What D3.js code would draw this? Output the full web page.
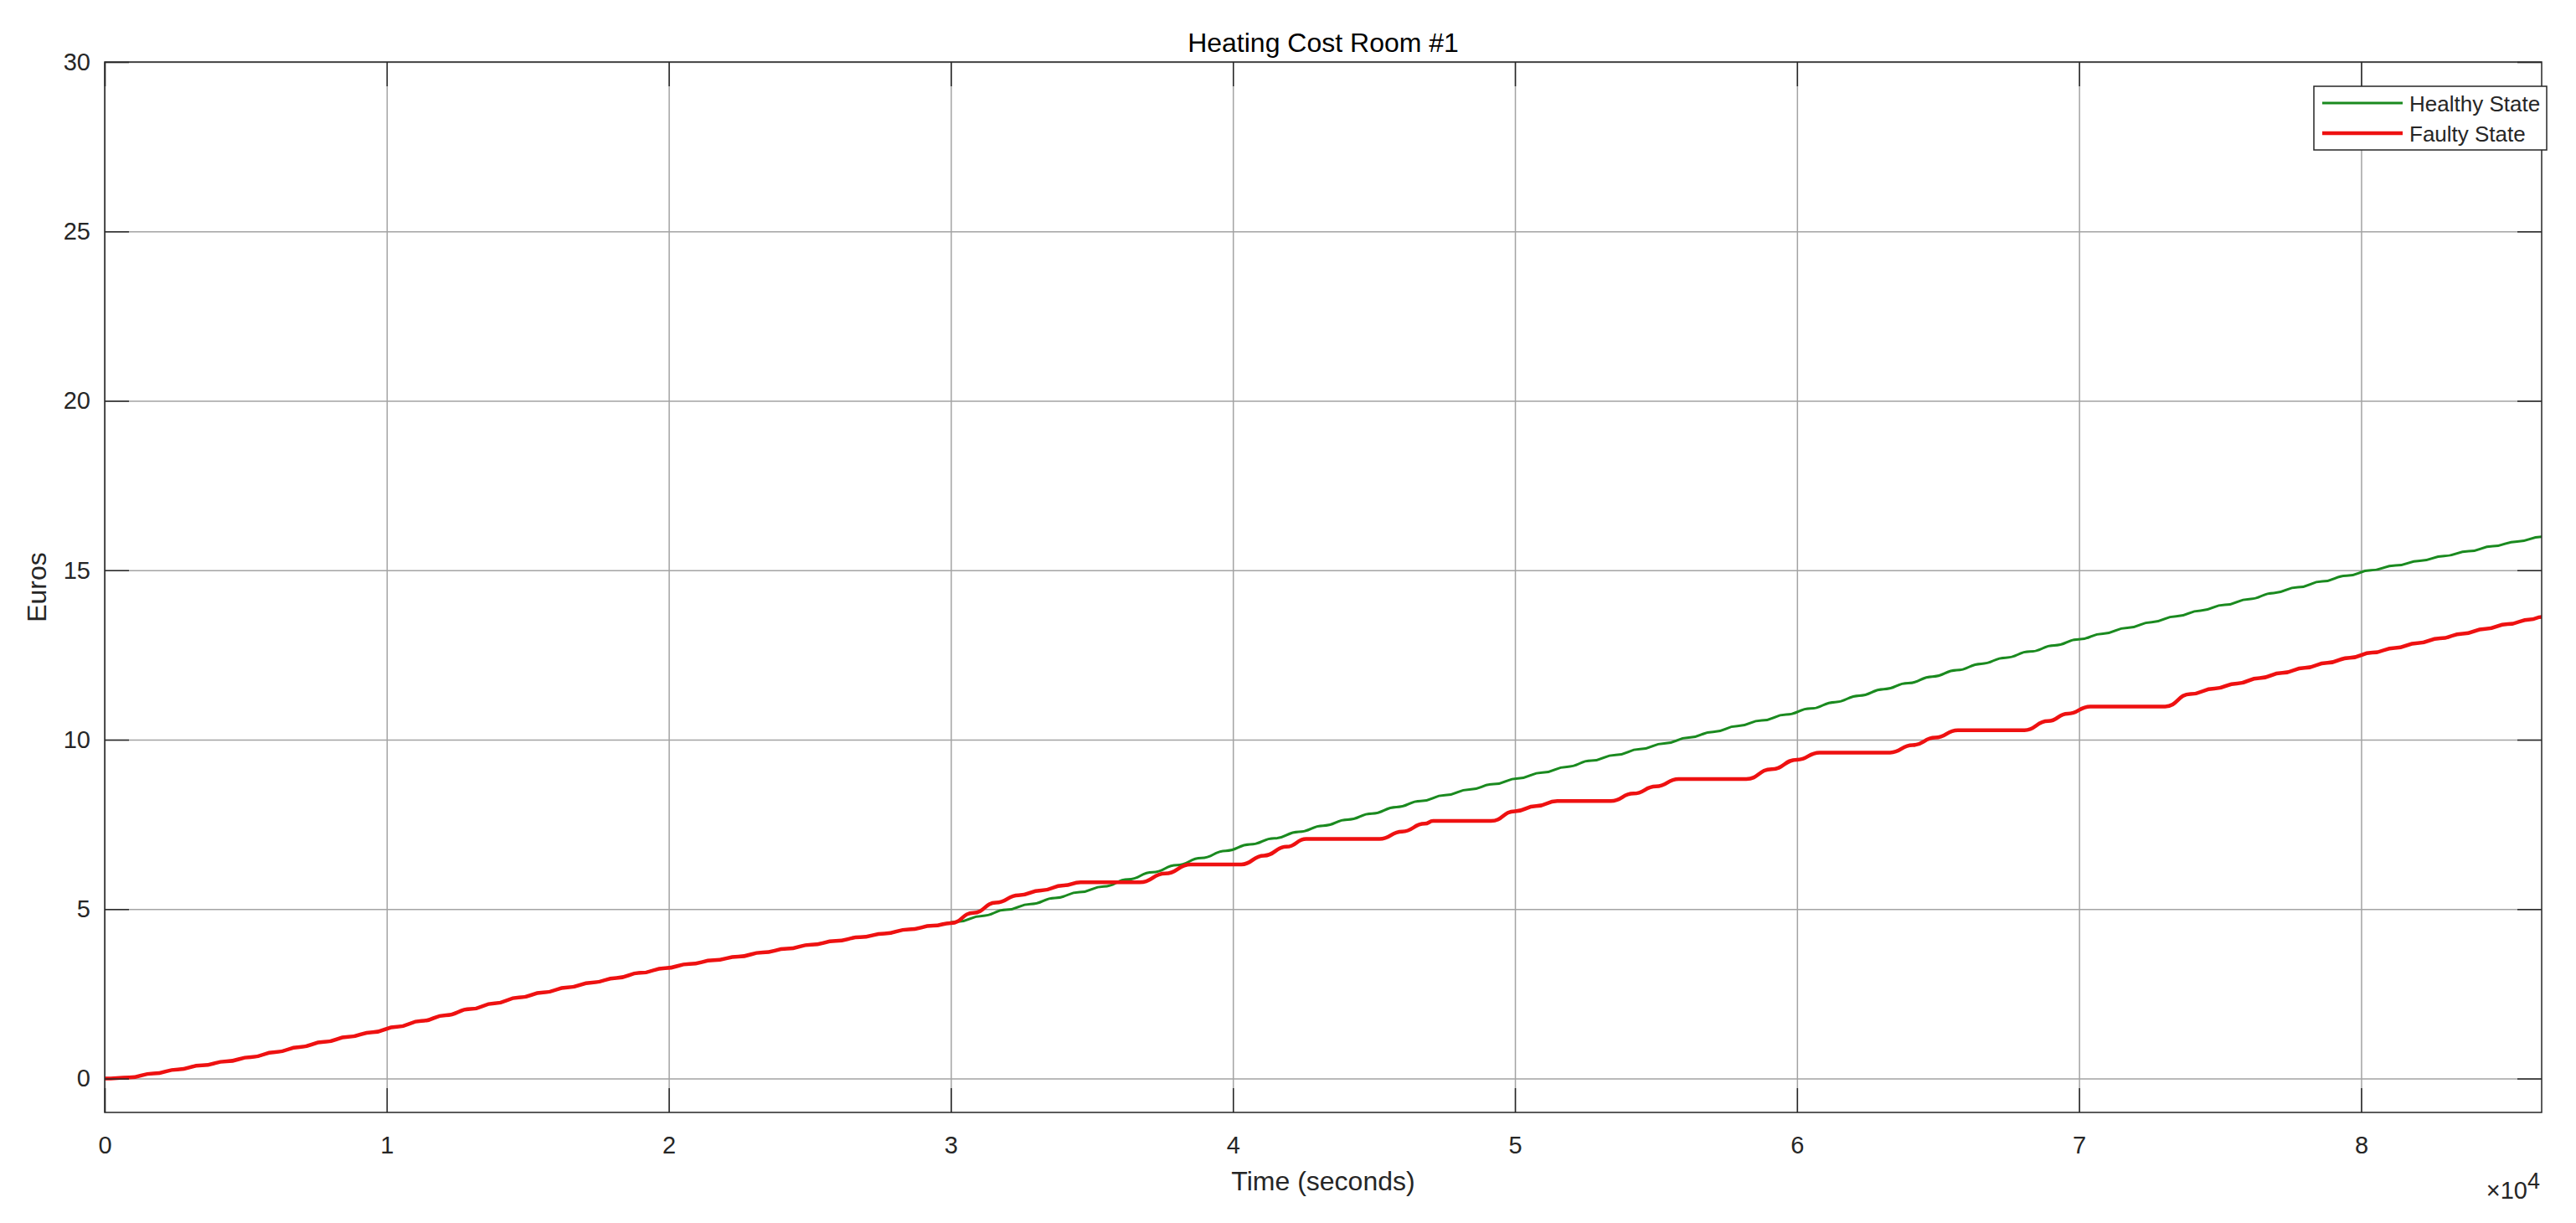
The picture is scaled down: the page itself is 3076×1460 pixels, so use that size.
<!DOCTYPE html>
<html><head><meta charset="utf-8">
<script src="https://cdn.jsdelivr.net/npm/d3@7"></script>
<style>
body{margin:0;background:#fff;}
svg{display:block;font-family:"Liberation Sans",Arial,Helvetica,sans-serif;}
</style></head><body>
<svg id="chart" width="3076" height="1460"></svg>
<script>
// ---------------- data ----------------
const chartTitle = "Heating Cost Room #1";
const xAxisLabel = "Time (seconds)";
const yAxisLabel = "Euros";
const xExponentBase = "\u00d710";
const xExponent = "4";
const xDomain = [0, 86400];
const yDomain = [-1, 30];
const xTicks = [0, 10000, 20000, 30000, 40000, 50000, 60000, 70000, 80000];
const xTickLabels = ["0", "1", "2", "3", "4", "5", "6", "7", "8"];
const yTicks = [0, 5, 10, 15, 20, 25, 30];
const yTickLabels = ["0", "5", "10", "15", "20", "25", "30"];
const seriesNames = ["Healthy State", "Faulty State"];

const healthyTime = [0, 864, 1728, 2592, 3456, 4320, 5184, 6048, 6912, 7776,
  8640, 9504, 10368, 11232, 12096, 12960, 13824, 14688, 15552, 16416,
  17280, 18144, 19008, 19872, 20736, 21600, 22464, 23328, 24192, 25056,
  25920, 26784, 27648, 28512, 29376, 30240, 31104, 31968, 32832, 33696,
  34560, 35424, 36288, 37152, 38016, 38880, 39744, 40608, 41472, 42336,
  43200, 44064, 44928, 45792, 46656, 47520, 48384, 49248, 50112, 50976,
  51840, 52704, 53568, 54432, 55296, 56160, 57024, 57888, 58752, 59616,
  60480, 61344, 62208, 63072, 63936, 64800, 65664, 66528, 67392, 68256,
  69120, 69984, 70848, 71712, 72576, 73440, 74304, 75168, 76032, 76896,
  77760, 78624, 79488, 80352, 81216, 82080, 82944, 83808, 84672, 85536, 86400];
const healthyCost = [0, 0.03, 0.15, 0.27, 0.39, 0.51, 0.63, 0.78, 0.93, 1.08,
  1.23, 1.37, 1.53, 1.70, 1.87, 2.05, 2.22, 2.39, 2.54, 2.69,
  2.83, 2.97, 3.12, 3.26, 3.38, 3.49, 3.60, 3.72, 3.83, 3.95,
  4.06, 4.17, 4.28, 4.40, 4.51, 4.63, 4.80, 4.98, 5.15, 5.33,
  5.50, 5.67, 5.88, 6.09, 6.30, 6.51, 6.72, 6.91, 7.09, 7.28,
  7.46, 7.64, 7.82, 8.01, 8.19, 8.36, 8.53, 8.69, 8.86, 9.03,
  9.20, 9.38, 9.55, 9.72, 9.89, 10.06, 10.23, 10.40, 10.57, 10.74,
  10.92, 11.11, 11.30, 11.49, 11.67, 11.86, 12.05, 12.24, 12.42, 12.60,
  12.78, 12.96, 13.13, 13.30, 13.47, 13.64, 13.81, 13.98, 14.15, 14.33,
  14.50, 14.67, 14.84, 15.00, 15.14, 15.28, 15.42, 15.56, 15.71, 15.85, 15.99];

const faultyTime = [0, 864, 1728, 2592, 3456, 4320, 5184, 6048, 6912, 7776,
  8640, 9504, 10368, 11232, 12096, 12960, 13824, 14688, 15552, 16416,
  17280, 18144, 19008, 19872, 20736, 21600, 22464, 23328, 24192, 25056,
  25920, 26784, 27648, 28512, 29376,
  30000, 30800, 31600, 32400, 33200, 34000, 34600, 36700, 37600, 38500,
  40300, 41100, 41900, 42600, 45200, 46000, 46800, 47100, 49150, 50000,
  50750, 51500, 53400, 54200, 55000, 55800, 58200, 59100, 60000, 60800,
  63300, 64100, 64900, 65700, 68060, 68900, 69600, 70400, 73050, 73950,
  74800, 75600, 76400, 77200, 78000, 78800, 79600, 80400, 81200, 82000,
  82800, 83600, 84400, 85200, 86000, 86400];
const faultyCost = [0, 0.03, 0.15, 0.27, 0.39, 0.51, 0.63, 0.78, 0.93, 1.08,
  1.23, 1.37, 1.53, 1.70, 1.87, 2.05, 2.22, 2.39, 2.54, 2.69,
  2.83, 2.97, 3.12, 3.26, 3.38, 3.49, 3.60, 3.72, 3.83, 3.95,
  4.06, 4.17, 4.28, 4.40, 4.51,
  4.59, 4.89, 5.19, 5.41, 5.55, 5.70, 5.79, 5.79, 6.05, 6.32,
  6.32, 6.58, 6.84, 7.07, 7.07, 7.29, 7.52, 7.60, 7.60, 7.89,
  8.04, 8.19, 8.19, 8.41, 8.62, 8.84, 8.84, 9.13, 9.41, 9.62,
  9.62, 9.84, 10.06, 10.28, 10.28, 10.55, 10.77, 10.98, 10.98, 11.35,
  11.51, 11.66, 11.82, 11.97, 12.12, 12.27, 12.42, 12.57, 12.71, 12.85,
  12.99, 13.13, 13.27, 13.41, 13.55, 13.62];

// ---------------- drawing ----------------
const svg = d3.select("#chart");
const M = {left: 125, right: 3035, top: 74, bottom: 1328};
const x = d3.scaleLinear().domain(xDomain).range([M.left, M.right]);
const y = d3.scaleLinear().domain(yDomain).range([M.bottom, M.top]);
const ink = "#262626";
const tickLen = 29;

svg.append("rect").attr("x", 0).attr("y", 0).attr("width", 3076).attr("height", 1460).attr("fill", "#fff");
svg.append("rect").attr("x", M.left).attr("y", M.top).attr("width", M.right - M.left)
  .attr("height", M.bottom - M.top).attr("fill", "#fff");

// grid
svg.append("g").attr("transform", `translate(0,${M.bottom})`)
  .call(d3.axisBottom(x).tickValues(xTicks).tickSize(-(M.bottom - M.top)).tickFormat(""))
  .call(g => g.select(".domain").remove())
  .call(g => g.selectAll("line").attr("stroke", "#a3a3a3").attr("stroke-width", 1.5));
svg.append("g").attr("transform", `translate(${M.left},0)`)
  .call(d3.axisLeft(y).tickValues(yTicks).tickSize(-(M.right - M.left)).tickFormat(""))
  .call(g => g.select(".domain").remove())
  .call(g => g.selectAll("line").attr("stroke", "#a3a3a3").attr("stroke-width", 1.5));

// lines
svg.append("clipPath").attr("id", "plotClip").append("rect")
  .attr("x", M.left).attr("y", M.top).attr("width", M.right - M.left).attr("height", M.bottom - M.top);

const line = d3.line().x(d => x(d[0])).y(d => y(d[1])).curve(d3.curveBumpX);
const healthy = healthyTime.map((t, i) => [t, healthyCost[i]]);
const faulty = faultyTime.map((t, i) => [t, faultyCost[i]]);
const plotG = svg.append("g").attr("clip-path", "url(#plotClip)");
plotG.append("path").datum(healthy).attr("d", line).attr("fill", "none")
  .attr("stroke", "#1a8a1f").attr("stroke-width", 3).attr("stroke-linejoin", "round");
plotG.append("path").datum(faulty).attr("d", line).attr("fill", "none")
  .attr("stroke", "#ee1111").attr("stroke-width", 4.5).attr("stroke-linejoin", "round");

// axes with inward ticks
const styleAxis = g => {
  g.select(".domain").remove();
  g.selectAll("line").attr("stroke", ink).attr("stroke-width", 1.5);
  g.selectAll("text").attr("fill", ink).attr("font-size", 29)
    .attr("font-family", '"Liberation Sans",Arial,Helvetica,sans-serif');
};
svg.append("g").attr("transform", `translate(0,${M.bottom})`)
  .call(d3.axisBottom(x).tickValues(xTicks).tickSizeInner(-tickLen).tickSizeOuter(0)
    .tickPadding(28).tickFormat((d, i) => xTickLabels[i]))
  .call(styleAxis);
svg.append("g").attr("transform", `translate(0,${M.top})`)
  .call(d3.axisTop(x).tickValues(xTicks).tickSizeInner(-tickLen).tickSizeOuter(0).tickFormat(""))
  .call(styleAxis);
svg.append("g").attr("transform", `translate(${M.left},0)`)
  .call(d3.axisLeft(y).tickValues(yTicks).tickSizeInner(-tickLen).tickSizeOuter(0)
    .tickPadding(17).tickFormat((d, i) => yTickLabels[i]))
  .call(styleAxis);
svg.append("g").attr("transform", `translate(${M.right},0)`)
  .call(d3.axisRight(y).tickValues(yTicks).tickSizeInner(-tickLen).tickSizeOuter(0).tickFormat(""))
  .call(styleAxis);

// box
svg.append("rect").attr("x", M.left).attr("y", M.top).attr("width", M.right - M.left)
  .attr("height", M.bottom - M.top).attr("fill", "none").attr("stroke", ink).attr("stroke-width", 1.5);

// titles
svg.append("text").attr("x", (M.left + M.right) / 2).attr("y", 62).attr("text-anchor", "middle")
  .attr("font-size", 32).attr("fill", "#000").text(chartTitle);
svg.append("text").attr("x", (M.left + M.right) / 2).attr("y", 1421).attr("text-anchor", "middle")
  .attr("font-size", 32).attr("fill", ink).text(xAxisLabel);
svg.append("text").attr("transform", `translate(55,${(M.top + M.bottom) / 2}) rotate(-90)`)
  .attr("text-anchor", "middle").attr("font-size", 32).attr("fill", ink).text(yAxisLabel);
svg.append("text").attr("x", 3018).attr("y", 1431).attr("text-anchor", "end")
  .attr("font-size", 29).attr("fill", ink).text(xExponentBase);
svg.append("text").attr("x", 3018).attr("y", 1419).attr("text-anchor", "start")
  .attr("font-size", 27).attr("fill", ink).text(xExponent);

// legend
const leg = svg.append("g");
leg.append("rect").attr("x", 2763).attr("y", 103).attr("width", 278).attr("height", 76)
  .attr("fill", "#fff").attr("stroke", ink).attr("stroke-width", 1.5);
const legColors = ["#1a8a1f", "#ee1111"];
const legWidths = [3, 4.5];
const legY = [123, 159];
seriesNames.forEach((name, i) => {
  leg.append("line").attr("x1", 2773).attr("x2", 2869).attr("y1", legY[i]).attr("y2", legY[i])
    .attr("stroke", legColors[i]).attr("stroke-width", legWidths[i]);
  leg.append("text").attr("x", 2877).attr("y", legY[i] + 10).attr("font-size", 26)
    .attr("fill", ink).text(name);
});
</script>
</body></html>
